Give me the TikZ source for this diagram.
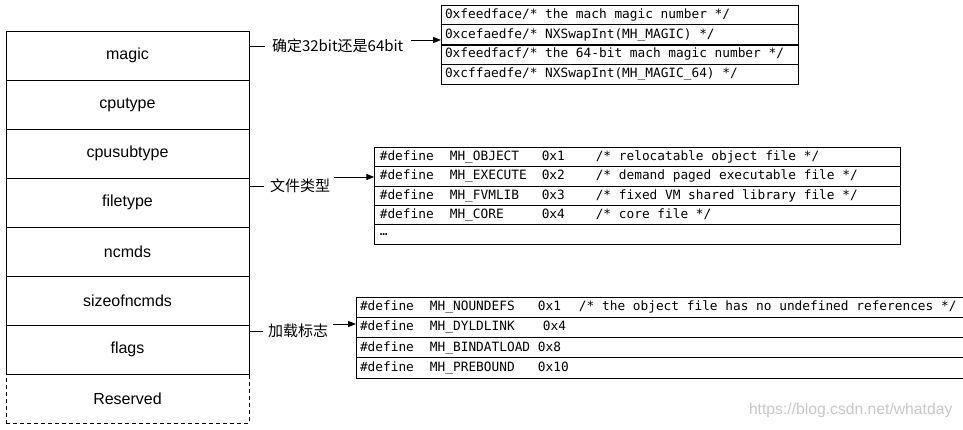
\documentclass[tikz,border=0pt]{standalone}
\usepackage{fontspec}
\setmainfont{Liberation Sans}
\newfontfamily\monofont{DejaVu Sans Mono}
\newfontfamily\cjkfont{Noto Sans CJK SC}
\usetikzlibrary{arrows.meta}
\protected\def\monosetup{\monofont\fontsize{12.8}{15}\selectfont\spaceskip=7.7pt\relax}
\newcommand\midrow[3]{\makebox[70pt][l]{\#define}\makebox[92pt][l]{#1}\makebox[54pt][l]{#2}#3}
\newcommand\lowrow[3]{\makebox[70pt][l]{\#define}\makebox[108pt][l]{#1}\makebox[41pt][l]{#2}#3}
\begin{document}
\begin{tikzpicture}[x=1pt,y=-1pt,
  every node/.style={inner sep=0pt, outer sep=0pt},
  field/.style={draw, line width=1pt, minimum width=243pt, minimum height=49pt, anchor=north west, font=\fontsize{16}{19}\selectfont},
  rowbox/.style={draw, line width=1pt, anchor=north west, inner ysep=0pt, align=flush left, font=\monosetup},
  toprow/.style={rowbox, inner xsep=4pt, text width=349pt, minimum height=19.8pt},
  midbox/.style={rowbox, inner xsep=5.5pt, text width=514.7pt, minimum height=19.4pt},
  lowbox/.style={rowbox, inner xsep=4pt, text width=602pt, minimum height=20.2pt},
  lab/.style={anchor=west, font=\cjkfont\fontsize{15}{18}\selectfont},
  conn/.style={line width=1pt},
  arr/.style={line width=1pt, -{Triangle[length=8pt,width=6pt]}}]
\useasboundingbox (0,0) rectangle (963,429);

% left structure
\node[field, dash pattern=on 4pt off 3pt] (reserved) at (6,374) {Reserved};
\node[field] (magic) at (6,31) {magic};
\node[field] (cputype) at (6,80) {cputype};
\node[field] (cpusubtype) at (6,129) {cpusubtype};
\node[field] (filetype) at (6,178) {filetype};
\node[field] (ncmds) at (6,227) {ncmds};
\node[field] (sizeofncmds) at (6,276) {sizeofncmds};
\node[field] (flags) at (6,325) {flags};

% magic table
\node[toprow] (m1) at (441,5) {0xfeedface/* the mach magic number */};
\node[toprow] (m2) at (441,24.8) {0xcefaedfe/* NXSwapInt(MH\_MAGIC) */};
\node[toprow] (m3) at (441,44.6) {0xfeedfacf/* the 64-bit mach magic number */};
\node[toprow] (m4) at (441,64.4) {0xcffaedfe/* NXSwapInt(MH\_MAGIC\_64) */};
\draw[line width=2pt] (m2.south west) -- (m2.south east);
\draw[line width=1.5pt] (m3.south west) -- (m3.south east);

% filetype table
\node[midbox] (d1) at (374.3,147.3) {\midrow{MH\_OBJECT}{0x1}{/* relocatable object file */}};
\node[midbox] (d2) at (374.3,166.7) {\midrow{MH\_EXECUTE}{0x2}{/* demand paged executable file */}};
\node[midbox] (d3) at (374.3,186.1) {\midrow{MH\_FVMLIB}{0x3}{/* fixed VM shared library file */}};
\node[midbox] (d4) at (374.3,205.5) {\midrow{MH\_CORE}{0x4}{/* core file */}};
\node[midbox] (d5) at (374.3,224.9) {…};

% flags table
\node[lowbox] (f1) at (356,297.3) {\lowrow{MH\_NOUNDEFS}{0x1}{/* the object file has no undefined references */}};
\node[lowbox] (f2) at (356,317.5) {\lowrow{MH\_DYLDLINK}{\hspace{5pt}0x4}{}};
\node[lowbox] (f3) at (356,337.7) {\lowrow{MH\_BINDATLOAD}{0x8}{}};
\node[lowbox] (f4) at (356,357.9) {\lowrow{MH\_PREBOUND}{0x10}{}};

% labels and connectors
\node[lab] (l1) at (272,46) {确定32bit还是64bit};
\draw[conn] (l1.west -| magic.east) -- ([xshift=-7pt]l1.west);
\coordinate (a1) at ([xshift=8pt,yshift=6pt]l1.east);
\draw[arr] (a1) -- (a1 -| m2.west);

\node[lab] (l2) at (270,186) {文件类型};
\draw[conn] (l2.west -| filetype.east) -- ([xshift=-6pt]l2.west);
\coordinate (a2) at ([xshift=4pt,yshift=9pt]l2.east);
\draw[arr] (a2) -- (a2 -| d2.west);

\node[lab] (l3) at (268,331) {加载标志};
\draw[conn] (l3.west -| flags.east) -- ([xshift=-5pt]l3.west);
\coordinate (a3) at ([xshift=5pt,yshift=7pt]l3.east);
\draw[arr] (a3) -- (a3 -| f2.west);

% watermark
\node[anchor=west, text=black!22, font=\fontsize{15.7}{18}\selectfont] (wm) at (749,410) {https://blog.csdn.net/whatday};
\end{tikzpicture}
\end{document}
